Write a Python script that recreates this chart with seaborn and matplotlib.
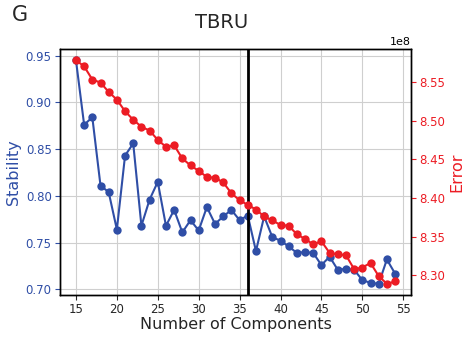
import matplotlib
matplotlib.use("Agg")
import matplotlib.pyplot as plt
import seaborn as sns
import pandas as pd

# Component sweep for TBRU: stability vs. reconstruction error
components = [15, 16, 17, 18, 19, 20, 21, 22, 23, 24, 25, 26, 27, 28, 29, 30, 31, 32, 33, 34,
              35, 36, 37, 38, 39, 40, 41, 42, 43, 44, 45, 46, 47, 48, 49, 50, 51, 52, 53, 54]
stability = [0.945, 0.876, 0.884, 0.811, 0.804, 0.764, 0.843, 0.856, 0.768, 0.796,
             0.815, 0.768, 0.785, 0.761, 0.774, 0.763, 0.788, 0.770, 0.778, 0.785,
             0.774, 0.779, 0.741, 0.778, 0.756, 0.752, 0.746, 0.739, 0.740, 0.739,
             0.726, 0.735, 0.721, 0.722, 0.721, 0.710, 0.707, 0.706, 0.732, 0.717]
error = [8.578e8, 8.570e8, 8.553e8, 8.549e8, 8.537e8, 8.527e8, 8.512e8, 8.501e8, 8.492e8, 8.487e8,
         8.475e8, 8.466e8, 8.468e8, 8.451e8, 8.442e8, 8.435e8, 8.427e8, 8.426e8, 8.420e8, 8.406e8,
         8.397e8, 8.391e8, 8.385e8, 8.376e8, 8.371e8, 8.365e8, 8.364e8, 8.353e8, 8.347e8, 8.340e8,
         8.344e8, 8.329e8, 8.327e8, 8.326e8, 8.308e8, 8.310e8, 8.316e8, 8.299e8, 8.289e8, 8.292e8]
chosen_k = 36

df = pd.DataFrame({"k": components, "stability": stability, "error": error})

BLUE = "#2f4ea6"
RED = "#ec1c24"

sns.set_style("whitegrid", {
    "axes.edgecolor": "black",
    "grid.color": "#cfcfcf",
    "xtick.bottom": True,
    "ytick.left": True,
})
plt.rcParams["font.family"] = ["DejaVu Sans"]

fig = plt.figure(figsize=(4.66, 3.37), dpi=100)
ax = fig.add_axes([60 / 466, 1 - 295 / 337, 351 / 466, 246 / 337])

sns.lineplot(data=df, x="k", y="stability", ax=ax, color=BLUE, marker="o",
             markersize=6, markeredgewidth=0, linewidth=1.5)
ax.set_xlabel("Number of Components", fontsize=11.5, labelpad=1)
ax.set_ylabel("Stability", fontsize=11.5, color=BLUE, labelpad=3)
ax.tick_params(axis="y", colors=BLUE, labelsize=8.5, length=3.5, width=0.8, pad=2.5)
ax.tick_params(axis="x", labelsize=8.5, length=3.5, width=0.8, pad=2)
ax.set_xticks([15, 20, 25, 30, 35, 40, 45, 50, 55])
ax.set_yticks([0.70, 0.75, 0.80, 0.85, 0.90, 0.95])
for s in ax.spines.values():
    s.set_color("black")
    s.set_linewidth(1.0)

ax2 = ax.twinx()
sns.lineplot(data=df, x="k", y="error", ax=ax2, color=RED, marker="o",
             markersize=6, markeredgewidth=0, linewidth=1.5)
ax2.grid(False)
ax2.set_ylabel("Error", fontsize=11.5, color=RED, labelpad=3)
ax2.tick_params(axis="y", colors=RED, labelsize=8.5, length=3.5, width=0.8, right=True, pad=2.5)
ax2.set_yticks([8.30e8, 8.35e8, 8.40e8, 8.45e8, 8.50e8, 8.55e8])
ax2.yaxis.get_offset_text().set_color("black")
ax2.yaxis.get_offset_text().set_fontsize(8)
for s in ax2.spines.values():
    s.set_color("black")
    s.set_linewidth(1.0)

ax.axvline(chosen_k, color="black", linewidth=2, zorder=5)
ax.set_xlim(13.05, 55.95)

fig.text(222 / 466, 1 - 22 / 337, "TBRU", fontsize=14, ha="center", va="center")
fig.text(12 / 466, 1 - 15 / 337, "G", fontsize=15, ha="left", va="center")

fig.savefig("out.png", dpi=100)
